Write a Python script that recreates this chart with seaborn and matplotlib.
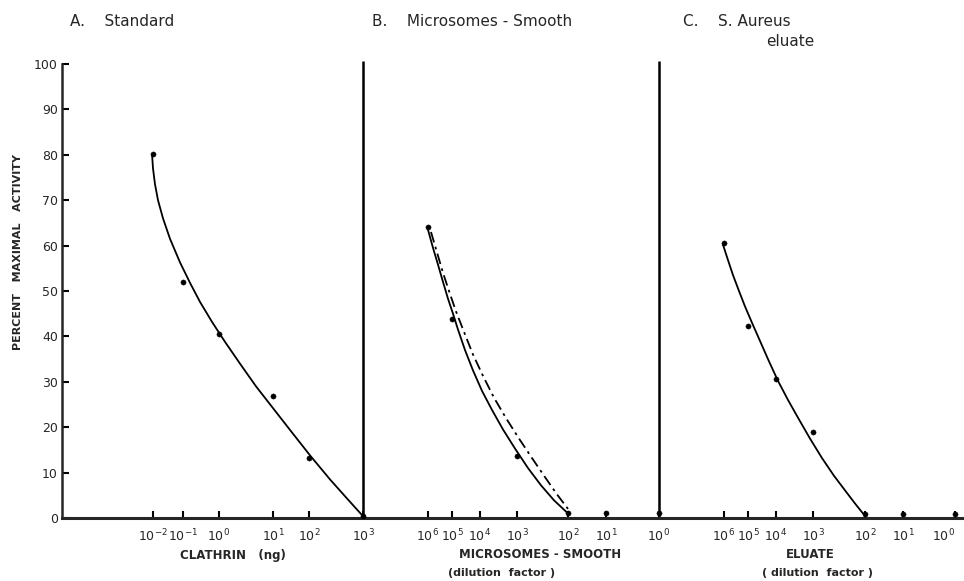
import numpy as np
import pandas as pd
import seaborn as sb
import matplotlib.pyplot as plt

# positions along the shared x axis (hand-drawn, uneven spacing)
pos_a = [153, 183, 219, 273, 309, 363]
lab_a = ["$10^{-2}$", "$10^{-1}$", "$10^{0}$", "$10^{1}$", "$10^{2}$", "$10^{3}$"]
pos_b = [428, 452, 480, 517, 568, 606, 659]
pos_c = [724, 748, 776, 813, 865, 903, 955]
lab_bc = ["$10^{6}$", "$10^{5}$", "$10^{4}$", "$10^{3}$", "$10^{2}$", "$10^{1}$", "$10^{0}$"]

# measured points (% maximal activity)
pts_a_x = [153, 183, 219, 273, 309, 363]
pts_a_y = [80.2, 52.0, 40.5, 26.8, 13.3, 0.5]
pts_b_x = [428, 452, 517, 568, 606, 659]
pts_b_y = [64.0, 43.8, 13.7, 1.0, 1.0, 1.0]
pts_c_x = [724, 748, 776, 813, 865, 903, 955]
pts_c_y = [60.6, 42.3, 30.6, 18.9, 0.9, 0.9, 0.9]

# drawn curves
curve_a_x = [152, 153, 155, 158, 163, 170, 180, 190, 200, 212, 225, 240, 256, 273, 290, 310, 330, 347, 363]
curve_a_y = [80.2, 77.0, 73.5, 70.0, 66.0, 61.5, 56.3, 51.8, 47.6, 43.2, 38.8, 34.0, 29.0, 24.2, 19.4, 13.8, 8.5, 4.3, 0.4]
curve_b_x = [428, 433, 438, 443, 448, 453, 458, 465, 473, 482, 492, 503, 515, 528, 541, 554, 568]
curve_b_y = [63.5, 59.5, 55.8, 52.0, 48.3, 45.0, 41.5, 37.0, 32.5, 28.0, 23.8, 19.5, 15.3, 11.0, 7.2, 3.9, 1.0]
curve_b2_x = [431, 437, 443, 449, 456, 464, 473, 483, 494, 506, 519, 532, 545, 557, 568]
curve_b2_y = [63.0, 58.5, 54.0, 50.0, 45.5, 41.0, 36.0, 31.3, 26.5, 22.0, 17.5, 13.2, 9.0, 5.2, 2.0]
curve_c_x = [723, 728, 733, 739, 745, 752, 760, 769, 778, 788, 799, 810, 822, 834, 846, 855, 863]
curve_c_y = [60.2, 56.8, 53.5, 50.0, 46.6, 43.0, 39.0, 34.5, 30.2, 26.0, 21.7, 17.5, 13.2, 9.3, 5.8, 3.2, 1.0]

sb.set_style("ticks")
plt.rcParams["font.family"] = ["DejaVu Sans"]

fig = plt.figure(figsize=(9.64, 5.81), dpi=100)
ax = fig.add_axes([62/964, 63/581, 900/964, 454*1.02/581])

for cx, cy, ls in [(curve_a_x, curve_a_y, "-"), (curve_b_x, curve_b_y, "-"),
                   (curve_b2_x, curve_b2_y, (0, (6, 2.5, 1.5, 2.5))), (curve_c_x, curve_c_y, "-")]:
    d = pd.DataFrame({"x": cx, "y": cy})
    sb.lineplot(data=d, x="x", y="y", sort=False, estimator=None, color="black",
                linewidth=1.3, linestyle=ls, ax=ax)

pts = pd.DataFrame({"x": pts_a_x + pts_b_x + pts_c_x, "y": pts_a_y + pts_b_y + pts_c_y})
sb.scatterplot(data=pts, x="x", y="y", color="black", s=14, edgecolor="black", ax=ax, zorder=5)

# panel separators
ax.vlines([pos_a[-1], pos_b[-1]], 0, 100.7, color="black", linewidth=1.8)

ax.set_xlim(62, 962)
ax.set_ylim(0, 102)
ax.spines["top"].set_visible(False)
ax.spines["right"].set_visible(False)
ax.spines["left"].set_bounds(0, 100)
ax.spines["left"].set_linewidth(1.8)
ax.spines["bottom"].set_linewidth(2.2)

ax.set_yticks(range(0, 101, 10))
ax.set_yticklabels([str(v) for v in range(0, 101, 10)], fontsize=9)
ax.set_xticks(pos_a + pos_b + pos_c)
ax.set_xticklabels(lab_a + lab_bc + lab_bc, fontsize=9)
ax.get_xticklabels()[-1].set_horizontalalignment("right")
ax.tick_params(axis="both", direction="in", length=5, width=1.5, color="black")
ax.tick_params(axis="x", pad=7)
ax.tick_params(axis="y", pad=3)
ax.set_xlabel("")
ax.set_ylabel("")

fig.text(18/964, 1-252/581, "PERCENT   MAXIMAL   ACTIVITY", rotation=90, fontsize=8,
         fontweight="bold", ha="center", va="center")

fig.text(70/964, 1-22/581, "A.    Standard", fontsize=11, va="center")
fig.text(372/964, 1-22/581, "B.    Microsomes - Smooth", fontsize=11, va="center")
fig.text(683/964, 1-22/581, "C.    S. Aureus", fontsize=11, va="center")
fig.text(790/964, 1-41/581, "eluate", fontsize=11, va="center", ha="center")

fig.text(233/964, 1-555/581, "CLATHRIN   (ng)", fontsize=8.5, fontweight="bold", ha="center", va="center")
fig.text(540/964, 1-555/581, "MICROSOMES - SMOOTH", fontsize=8.5, fontweight="bold", ha="center", va="center")
fig.text(502/964, 1-573/581, "(dilution  factor )", fontsize=8, fontweight="bold", ha="center", va="center")
fig.text(810/964, 1-555/581, "ELUATE", fontsize=8.5, fontweight="bold", ha="center", va="center")
fig.text(817/964, 1-573/581, "( dilution  factor )", fontsize=8, fontweight="bold", ha="center", va="center")

fig.savefig("out.png", dpi=100)
